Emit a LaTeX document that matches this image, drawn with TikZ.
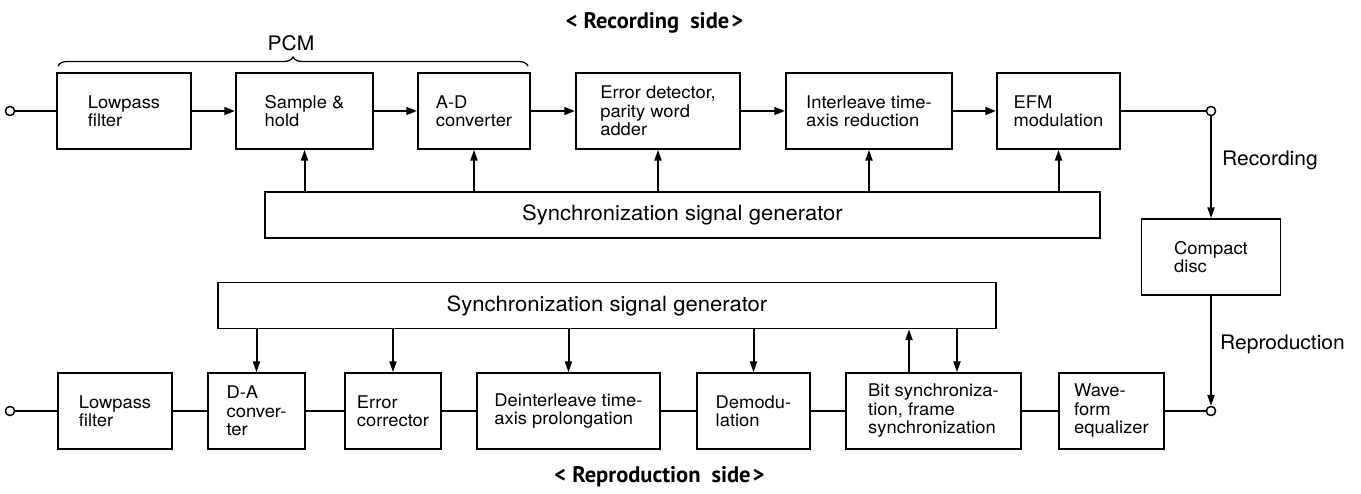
\documentclass[tikz,border=0pt]{standalone}
\usepackage{fontspec}
\setmainfont{TeX Gyre Heros}[FakeStretch=1.05]
\newfontfamily\titlefont{PT Sans}
\usetikzlibrary{arrows.meta,decorations.pathreplacing}
\begin{document}
\begin{tikzpicture}[x=1pt,y=-1pt,
  blk/.style={draw, line width=1.4pt, inner sep=0pt, align=left, font=\fontsize{17.5}{18.5}\selectfont},
  syn/.style={blk, align=center, font=\fontsize{21}{24}\selectfont},
  conn/.style={line width=2.8pt},
  harr/.style={line width=2.8pt, -{Triangle[length=11pt,width=7.5pt]}},
  varr/.style={line width=2pt, -{Triangle[length=11pt,width=7pt]}},
  term/.style={circle, draw, line width=1.3pt, fill=white, inner sep=0pt, minimum size=9pt},
  lbl/.style={inner sep=0pt, font=\fontsize{20}{22}\selectfont},
  ttl/.style={inner sep=0pt, anchor=base, font=\titlefont\bfseries\fontsize{22.5}{26}\selectfont}
]
\useasboundingbox (0,0) rectangle (1361,493);

% titles
\node[ttl] (t1) at (654.5,28) {<\hspace{6pt}Recording\hspace{11pt}side\hspace{2pt}>};
\node[ttl] (t2) at (659.5,482) {<\hspace{6pt}Reproduction\hspace{11pt}side\hspace{2pt}>};

% top row
\node[blk, minimum width=134pt, minimum height=76pt] (lpA) at (124,111) {Lowpass\\filter};
\node[blk, minimum width=137pt, minimum height=76pt] (sh) at (304.5,111) {Sample \&\\hold};
\node[blk, minimum width=112pt, minimum height=76pt] (ad) at (474,111) {A-D\\converter};
\node[blk, minimum width=164pt, minimum height=76pt] (ed) at (658,111) {Error detector,\\parity word\\adder};
\node[blk, minimum width=166pt, minimum height=76pt] (il) at (869,111) {Interleave time-\\axis reduction};
\node[blk, minimum width=123pt, minimum height=76pt] (efm) at (1058.5,111) {EFM\\modulation};
\node[syn, minimum width=835pt, minimum height=46pt] (syncA) at (682.5,215) {Synchronization signal generator};
\node[blk, minimum width=139pt, minimum height=76pt] (cd) at (1211,257) {Compact\\disc};

\node[term] (inA) at (10,111) {};
\node[term] (outA) at (1211,111) {};

\node[lbl] (pcm) at (291,43) {PCM};
\draw[line width=1.3pt, decorate, decoration={brace, amplitude=9pt}] (58,66) -- (528,66);

\draw[conn] (inA) -- (lpA.west);
\draw[harr] (lpA.east) -- (sh.west);
\draw[harr] (sh.east) -- (ad.west);
\draw[harr] (ad.east) -- (ed.west);
\draw[harr] (ed.east) -- (il.west);
\draw[harr] (il.east) -- (efm.west);
\draw[conn] (efm.east) -- (outA.west);

\foreach \n in {sh,ad,ed,il,efm}
  \draw[varr] (\n.south |- syncA.north) -- (\n.south);

\draw[varr] (outA.south) -- (cd.north);
\node[lbl, anchor=west] (rec) at (1222,160) {Recording};

% bottom row
\node[syn, minimum width=778pt, minimum height=46pt] (syncB) at (607,305.5) {Synchronization signal generator};
\node[blk, minimum width=114pt, minimum height=76pt] (lpB) at (115,411) {Lowpass\\filter};
\node[blk, minimum width=97pt, minimum height=76pt] (da) at (256.5,411) {D-A\\conver-\\ter};
\node[blk, minimum width=96pt, minimum height=76pt] (ec) at (393,411) {Error\\corrector};
\node[blk, minimum width=183pt, minimum height=76pt] (di) at (568.5,411) {Deinterleave time-\\axis prolongation};
\node[blk, minimum width=113pt, minimum height=76pt] (dm) at (753.5,411) {Demodu-\\lation};
\node[blk, minimum width=175pt, minimum height=76pt] (bs) at (933.5,411) {Bit synchroniza-\\tion, frame\\synchronization};
\node[blk, minimum width=105pt, minimum height=76pt] (wf) at (1111.5,411) {Wave-\\form\\equalizer};

\node[term] (inB) at (10,411) {};
\node[term] (outB) at (1211,411) {};

\draw[conn] (inB) -- (lpB.west);
\draw[conn] (lpB.east) -- (da.west);
\draw[conn] (da.east) -- (ec.west);
\draw[conn] (ec.east) -- (di.west);
\draw[conn] (di.east) -- (dm.west);
\draw[conn] (dm.east) -- (bs.west);
\draw[conn] (bs.east) -- (wf.west);
\draw[conn] (wf.east) -- (outB.west);

\foreach \n in {da,ec,di,dm}
  \draw[varr] (\n.north |- syncB.south) -- (\n.north);
\coordinate (bsU) at ([xshift=-24.5pt]bs.north);
\coordinate (bsD) at ([xshift=23.5pt]bs.north);
\draw[varr] (bsU) -- (bsU |- syncB.south);
\draw[varr] (bsD |- syncB.south) -- (bsD);

\draw[varr] (cd.south) -- (outB.north);
\node[lbl, anchor=west] (rep) at (1220,344) {Reproduction};

\node[term] at (inA) {};
\node[term] at (outA) {};
\node[term] at (inB) {};
\node[term] at (outB) {};
\end{tikzpicture}
\end{document}
